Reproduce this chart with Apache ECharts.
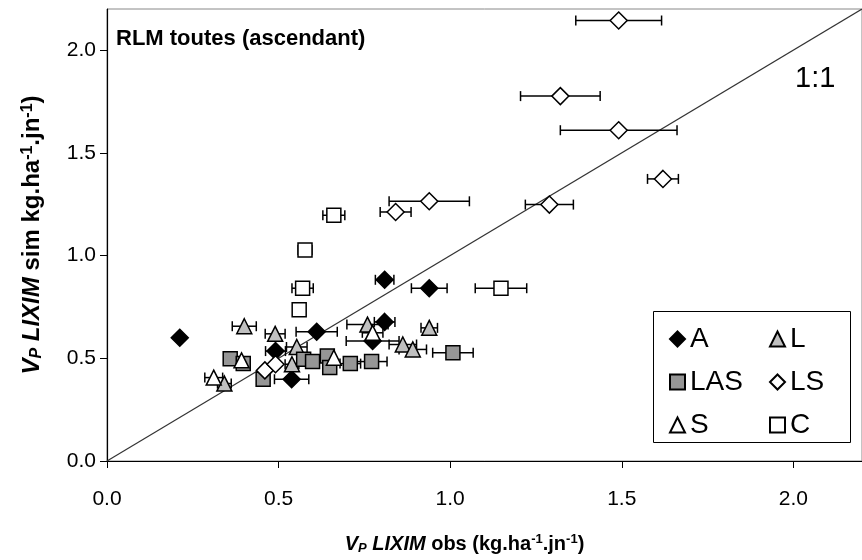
<!DOCTYPE html>
<html><head><meta charset="utf-8">
<script src="https://cdn.jsdelivr.net/npm/echarts@6/dist/echarts.min.js"></script>
<style>html,body{margin:0;padding:0;background:#fff}#c{width:862px;height:560px}</style>
</head><body><div id="c"></div>
<script>
// tick values
const xTicks = [0, 0.5, 1.0, 1.5, 2.0];
const yTicks = [0, 0.5, 1.0, 1.5, 2.0];
const seriesNames = ['A', 'L', 'LAS', 'LS', 'S', 'C'];
// [obs, sim, horizontal error]
const dataA = [
  [0.212, 0.600, 0], [0.491, 0.535, 0.029], [0.538, 0.398, 0.05], [0.611, 0.629, 0.06],
  [0.774, 0.584, 0.077], [0.809, 0.677, 0.03], [0.809, 0.882, 0.027], [0.939, 0.841, 0.052]
];
const dataL = [
  [0.342, 0.377, 0.02], [0.400, 0.656, 0.035], [0.490, 0.619, 0.029], [0.553, 0.555, 0.03],
  [0.539, 0.471, 0.02], [0.759, 0.664, 0.06], [0.862, 0.567, 0.04], [0.891, 0.543, 0.04],
  [0.939, 0.648, 0.024]
];
const dataLAS = [
  [0.359, 0.498, 0], [0.397, 0.474, 0], [0.455, 0.398, 0], [0.573, 0.495, 0], [0.599, 0.484, 0],
  [0.642, 0.511, 0], [0.649, 0.455, 0], [0.709, 0.474, 0.03], [0.771, 0.484, 0.045], [1.008, 0.527, 0.059]
];
const dataLS = [
  [0.460, 0.441, 0], [0.491, 0.471, 0], [0.841, 1.212, 0.045], [0.939, 1.264, 0.117],
  [1.289, 1.248, 0.07], [1.321, 1.776, 0.116], [1.491, 2.144, 0.125], [1.491, 1.610, 0.17],
  [1.620, 1.373, 0.045]
];
const dataS = [
  [0.311, 0.406, 0.026], [0.392, 0.490, 0], [0.661, 0.503, 0], [0.774, 0.624, 0.03]
];
const dataC = [
  [0.560, 0.736, 0], [0.570, 0.841, 0.031], [0.577, 1.027, 0.02], [0.661, 1.196, 0.032],
  [1.148, 0.841, 0.075]
];
const oneToOne = [[0, 0], [2.2, 2.2]];

const allData = [dataA, dataL, dataLAS, dataLS, dataS, dataC];
const symbols = ['diamond', 'triangle', 'rect', 'diamond', 'triangle', 'rect'];
const sizes = [17, 15, 14, 17, 15, 14];
const fills = ['#000000', '#c0c0c0', '#969696', '#ffffff', '#ffffff', '#ffffff'];

const chart = echarts.init(document.getElementById('c'), null, {renderer: 'canvas'});
const FONT = 'Arial, "Liberation Sans", sans-serif';

function errRender(params, api) {
  const x = api.value(0), y = api.value(1), e = api.value(2);
  if (!e) return null;
  const p1 = api.coord([x - e, y]), p2 = api.coord([x + e, y]);
  const h = 5;
  const st = {stroke: '#000', lineWidth: 1.5};
  return {type: 'group', children: [
    {type: 'line', shape: {x1: p1[0], y1: p1[1], x2: p2[0], y2: p2[1]}, style: st},
    {type: 'line', shape: {x1: p1[0], y1: p1[1] - h, x2: p1[0], y2: p1[1] + h}, style: st},
    {type: 'line', shape: {x1: p2[0], y1: p2[1] - h, x2: p2[0], y2: p2[1] + h}, style: st}
  ]};
}

const series = [];
series.push({
  type: 'line', data: oneToOne, symbol: 'none', silent: true, z: 1,
  lineStyle: {color: '#333', width: 1.2}
});
allData.forEach((d, i) => {
  series.push({
    type: 'custom', renderItem: errRender, data: d, z: 2, silent: true,
    encode: {x: 0, y: 1}
  });
});
allData.forEach((d, i) => {
  series.push({
    name: seriesNames[i], type: 'scatter', data: d, z: 3 + i,
    symbol: symbols[i], symbolSize: sizes[i],
    itemStyle: {color: fills[i], borderColor: '#000', borderWidth: 1.5, opacity: 1}
  });
});

function richFor(fs) {
  const s = Math.round(fs * 0.65);
  return {
    bi: {fontFamily: FONT, fontWeight: 'bold', fontStyle: 'italic', fontSize: fs, color: '#000'},
    sub: {fontFamily: FONT, fontWeight: 'bold', fontStyle: 'italic', fontSize: s, color: '#000', verticalAlign: 'bottom', padding: [7, 0, 0, 0]},
    b: {fontFamily: FONT, fontWeight: 'bold', fontSize: fs, color: '#000'},
    sup: {fontFamily: FONT, fontWeight: 'bold', fontSize: s, color: '#000', verticalAlign: 'top', padding: [0, 0, 9, 0]}
  };
}

const option = {
  backgroundColor: '#fff',
  animation: false,
  grid: {left: 107, top: 9, width: 764.5, height: 455, show: true, borderColor: '#888', borderWidth: 1},
  xAxis: {
    type: 'value', min: 0, max: 2.2, interval: 0.5,
    axisLine: {lineStyle: {color: '#000', width: 1.2}},
    axisTick: {show: true, inside: false, length: 7, lineStyle: {color: '#000'}, customValues: xTicks},
    axisLabel: {customValues: xTicks, formatter: v => v.toFixed(1), fontFamily: FONT, fontSize: 21, color: '#000', margin: 28},
    splitLine: {show: false},
    name: '{bi|V}{sub|P}{bi| LIXIM}{b| obs (kg.ha}{sup|-1}{b|.jn}{sup|-1}{b|)}',
    nameLocation: 'middle', nameGap: 72,
    nameTextStyle: {rich: richFor(20), padding: [0, 40, 0, 0]}
  },
  yAxis: {
    type: 'value', min: 0, max: 2.2, interval: 0.5,
    axisLine: {lineStyle: {color: '#000', width: 1.2}},
    axisTick: {show: true, inside: false, length: 7, lineStyle: {color: '#000'}, customValues: yTicks},
    axisLabel: {customValues: yTicks, formatter: v => v.toFixed(1), fontFamily: FONT, fontSize: 21, color: '#000', margin: 11},
    splitLine: {show: false},
    name: '{bi|V}{sub|P}{bi| LIXIM}{b| sim kg.ha}{sup|-1}{b|.jn}{sup|-1}{b|)}',
    nameLocation: 'middle', nameGap: 62, nameRotate: 90,
    nameTextStyle: {rich: richFor(24), padding: [0, 0, 0, 0]}
  },
  legend: [
    {data: ['A', 'LAS', 'S'], orient: 'vertical', left: 664, top: 318, itemGap: 11,
     itemWidth: 15, itemHeight: 15, textStyle: {fontFamily: FONT, fontSize: 28, color: '#000', lineHeight: 32}, selectedMode: false},
    {data: ['L', 'LS', 'C'], orient: 'vertical', left: 764, top: 318, itemGap: 11,
     itemWidth: 15, itemHeight: 15, textStyle: {fontFamily: FONT, fontSize: 28, color: '#000', lineHeight: 32}, selectedMode: false}
  ],
  graphic: [
    {type: 'rect', left: 653, top: 311, shape: {width: 197, height: 131}, style: {fill: '#fff', stroke: '#000', lineWidth: 1}, z: 1},
    {type: 'text', left: 116, top: 28, style: {text: 'RLM toutes (ascendant)', font: 'bold 22px ' + FONT, fill: '#000'}, z: 10},
    {type: 'text', left: 795, top: 64, style: {text: '1:1', font: '29px ' + FONT, fill: '#000'}, z: 10}
  ],
  series: series
};
chart.setOption(option);
</script>
</body></html>
